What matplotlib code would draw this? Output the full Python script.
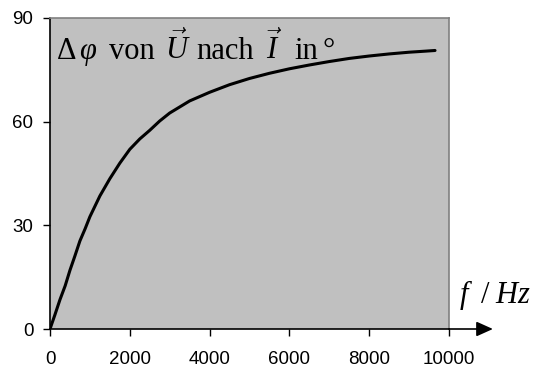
import matplotlib
matplotlib.use('Agg')
import matplotlib.pyplot as plt

# values
freq_hz = [0, 120, 250, 380, 500, 620, 750, 880, 1000, 1250, 1500, 1750, 2000,
           2250, 2500, 2750, 3000, 3500, 4000, 4500, 5000, 5500, 6000, 6500,
           7000, 7500, 8000, 8500, 9000, 9400, 9650]
phase_deg = [0, 4, 8.5, 12.5, 17, 21, 25.5, 29, 32.5, 38.5, 43.5, 48, 52,
             55, 57.5, 60.2, 62.5, 66, 68.5, 70.7, 72.5, 74, 75.3, 76.4,
             77.4, 78.3, 79, 79.6, 80.1, 80.4, 80.6]
x_ticks = [0, 2000, 4000, 6000, 8000, 10000]
y_ticks = [0, 30, 60, 90]

W, H = 538, 367

plt.rcParams['mathtext.fontset'] = 'custom'
plt.rcParams['mathtext.rm'] = 'Liberation Serif'
plt.rcParams['mathtext.it'] = 'Liberation Serif:italic'

fig = plt.figure(figsize=(W / 100, H / 100), dpi=100)
ax = fig.add_axes([50 / W, 1 - 329 / H, 399 / W, 311 / H])
ax.set_facecolor('#C0C0C0')

ax.plot(freq_hz, phase_deg, color='black', lw=2.2, solid_capstyle='round')

ax.set_xlim(0, 10000)
ax.set_ylim(0, 90)
ax.set_xticks(x_ticks)
ax.set_yticks(y_ticks)
ax.tick_params(direction='out', length=5, width=1, color='black',
               labelsize=13.5)
ax.tick_params(axis='x', pad=11)
ax.tick_params(axis='y', pad=7)
for lab in ax.get_xticklabels() + ax.get_yticklabels():
    lab.set_fontfamily('Liberation Sans')

for s in ['top', 'right']:
    ax.spines[s].set_color('#808080')
    ax.spines[s].set_linewidth(1.2)
for s in ['left', 'bottom']:
    ax.spines[s].set_color('black')
    ax.spines[s].set_linewidth(1.2)

# x axis arrow
ax.annotate('', xy=(1.11, 0), xytext=(1.0, 0), xycoords='axes fraction',
            arrowprops=dict(arrowstyle='-|>,head_length=1.0,head_width=0.45',
                            color='black', lw=1.2, shrinkA=0, shrinkB=0),
            annotation_clip=False)


def put(x, y, s, size=22, **kw):
    fig.text(x / W, 1 - y / H, s, fontsize=size, family='Liberation Serif',
             va='baseline', ha='left', **kw)


# title inside plot, placed piece by piece
put(56, 59, r'$\Delta\,\varphi$')
put(109, 59, 'von')
put(165, 59, r'$\vec{U}$')
put(196, 59, 'nach')
put(266, 59, r'$\vec{I}$')
put(294, 59, 'in')
put(323, 59, '°')

# x axis label
put(459, 303, r'$f$')
put(481, 303, '/')
put(495, 303, r'$Hz$')

fig.savefig('out.png', dpi=100)
